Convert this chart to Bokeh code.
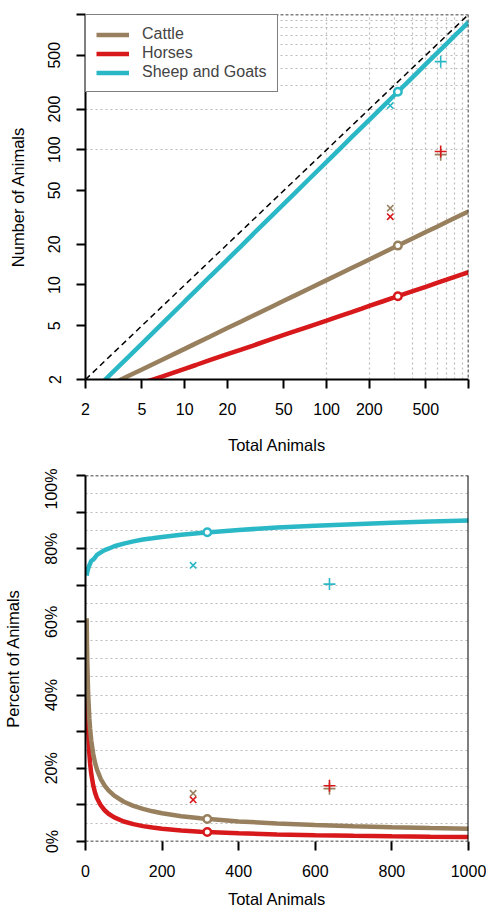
from bokeh.plotting import figure
from bokeh.layouts import column
from bokeh.models import Range1d, FixedTicker, Span, Legend, LegendItem
from bokeh.embed import file_html
from bokeh.resources import INLINE

# ---- data ----
totals = [2, 3, 4, 5, 7, 10, 12, 15, 20, 25, 30, 40, 50, 60, 75, 100, 125, 150, 175, 200, 250, 300,
          400, 500, 600, 700, 800, 900, 1000]
cattle = [1.49, 1.83, 2.12, 2.37, 2.81, 3.37, 3.70, 4.14, 4.80, 5.37, 5.89, 6.82, 7.64, 8.38, 9.39, 10.86,
          12.17, 13.35, 14.43, 15.45, 17.30, 18.98, 21.97, 24.61, 26.99, 29.19, 31.24, 33.17, 34.99]
horses = [1.35, 1.56, 1.73, 1.88, 2.11, 2.40, 2.56, 2.78, 3.08, 3.33, 3.55, 3.94, 4.27, 4.55, 4.93, 5.46,
          5.92, 6.31, 6.67, 7.00, 7.58, 8.09, 8.96, 9.70, 10.36, 10.94, 11.48, 11.97, 12.43]
sheep = [1.43, 2.18, 2.93, 3.69, 5.22, 7.55, 9.11, 11.5, 15.4, 19.4, 23.5, 31.6, 39.8, 48.0, 60.5, 81.4,
         102.5, 123.8, 145.0, 166.4, 209.6, 252.9, 340.4, 429.0, 517.8, 606.9, 696.8, 786.6, 877.0]
pct_min_total = 3  # percent curves start here

fit_total = 318
fit_values = {"Cattle": 19.55, "Horses": 8.26, "Sheep and Goats": 268.7}

obs_x_total = 281
obs_x_values = {"Cattle": 37, "Horses": 32, "Sheep and Goats": 212}
obs_plus_total = 637
obs_plus_values = {"Cattle": 92, "Horses": 97, "Sheep and Goats": 448}

series_names = ["Cattle", "Horses", "Sheep and Goats"]
series_values = {"Cattle": cattle, "Horses": horses, "Sheep and Goats": sheep}
colors = {"Cattle": "#98805E", "Horses": "#D7191C", "Sheep and Goats": "#2BB8C6"}

top_x_ticks = [2, 5, 10, 20, 50, 100, 200, 500, 1000]
top_y_ticks = [2, 5, 10, 20, 50, 100, 200, 500, 1000]
top_grid = [100, 200, 300, 400, 500, 600, 700, 800, 900]
bot_x_ticks = [0, 200, 400, 600, 800, 1000]
bot_y_ticks = [0, 10, 20, 30, 40, 50, 60, 70, 80, 90, 100]
bot_y_labels = {0: "0%", 10: "", 20: "20%", 30: "", 40: "40%", 50: "", 60: "60%", 70: "", 80: "80%", 90: "", 100: "100%"}
bot_grid = [5, 10, 15, 20, 25, 30, 35, 40, 45, 50, 55, 60, 65, 70, 75, 80, 85, 90, 95]

FONT = "Liberation Sans"
GRID = "#BBBBBB"


def style_axes(p):
    for ax in (p.xaxis[0], p.yaxis[0]):
        ax.axis_line_color = "black"
        ax.axis_line_width = 2
        ax.major_tick_line_color = "black"
        ax.major_tick_line_width = 2
        ax.major_tick_in = 0
        ax.major_tick_out = 9
        ax.minor_tick_line_color = None
        ax.major_label_text_font = FONT
        ax.major_label_text_font_size = "16px"
        ax.major_label_text_color = "black"
        ax.axis_label_text_font = FONT
        ax.axis_label_text_font_size = "16.5px"
        ax.axis_label_text_font_style = "normal"
        ax.axis_label_text_color = "black"
    p.xaxis[0].major_label_standoff = 14
    p.yaxis[0].major_label_standoff = 16
    p.yaxis[0].major_label_orientation = "vertical"
    p.yaxis[0].axis_label_standoff = 19
    p.outline_line_color = None
    p.background_fill_color = "white"
    p.border_fill_color = "white"


# ---------------- top panel: log-log counts ----------------
p1 = figure(width=486, height=468, x_axis_type="log", y_axis_type="log",
            x_range=Range1d(2, 1000), y_range=Range1d(2, 1000),
            output_backend="svg", toolbar_location=None,
            min_border_left=84, min_border_right=18, min_border_top=14, min_border_bottom=89,
            x_axis_label="Total Animals", y_axis_label="Number of Animals")
style_axes(p1)
p1.xaxis[0].ticker = FixedTicker(ticks=top_x_ticks)
p1.yaxis[0].ticker = FixedTicker(ticks=top_y_ticks)
p1.xaxis[0].major_label_overrides = {t: ("" if t == 1000 else str(t)) for t in top_x_ticks}
p1.yaxis[0].major_label_overrides = {t: ("" if t == 1000 else str(t)) for t in top_y_ticks}
p1.xaxis[0].axis_label_standoff = 18
for g in (p1.xgrid[0], p1.ygrid[0]):
    g.ticker = FixedTicker(ticks=top_grid)
    g.grid_line_color = GRID
    g.grid_line_dash = "2 3"
    g.grid_line_width = 1.2

p1.add_layout(Span(location=1000, dimension="width", line_color="black", line_dash="3 2", line_width=1.5))
p1.add_layout(Span(location=1000, dimension="height", line_color="black", line_dash="3 2", line_width=1.5))

p1.line([2, 1000], [2, 1000], line_color="black", line_dash="6 4", line_width=1.5)

renderers = {}
for name in ["Horses", "Cattle", "Sheep and Goats"]:
    renderers[name] = p1.line(totals, series_values[name], line_color=colors[name], line_width=4.5)
items = [LegendItem(label=name, renderers=[renderers[name]]) for name in series_names]
for name in series_names:
    p1.scatter([fit_total], [fit_values[name]], marker="circle", size=7.5, line_width=2.5,
               line_color=colors[name], fill_color="white")
    p1.scatter([obs_x_total], [obs_x_values[name]], marker="x", size=9, line_width=1.6,
               line_color=colors[name])
for name in ["Cattle", "Horses", "Sheep and Goats"]:
    p1.scatter([obs_plus_total], [obs_plus_values[name]], marker="cross", size=12, line_width=1.6,
               line_color=colors[name])

legend = Legend(items=items, location="top_left", margin=0, padding=10, spacing=1,
                glyph_width=33, glyph_height=17, label_height=17, label_standoff=13,
                label_text_font=FONT, label_text_font_size="16px",
                border_line_color="black", border_line_width=1.5,
                background_fill_color="white", background_fill_alpha=1.0)
p1.add_layout(legend)

# ---------------- bottom panel: percent ----------------
p2 = figure(width=486, height=445, x_range=Range1d(0, 1000), y_range=Range1d(0, 100),
            output_backend="svg", toolbar_location=None,
            min_border_left=84, min_border_right=18, min_border_top=7, min_border_bottom=72,
            x_axis_label="Total Animals", y_axis_label="Percent of Animals")
style_axes(p2)
p2.xaxis[0].ticker = FixedTicker(ticks=bot_x_ticks)
p2.yaxis[0].ticker = FixedTicker(ticks=bot_y_ticks)
p2.yaxis[0].major_label_overrides = bot_y_labels
p2.xaxis[0].axis_line_color = None
p2.xaxis[0].axis_label_standoff = 10
p2.xgrid[0].grid_line_color = None
p2.ygrid[0].ticker = FixedTicker(ticks=bot_grid)
p2.ygrid[0].grid_line_color = GRID
p2.ygrid[0].grid_line_dash = "2 3"
p2.ygrid[0].grid_line_width = 1.2

p2.add_layout(Span(location=100, dimension="width", line_color="black", line_dash="3 2", line_width=1.5))
p2.add_layout(Span(location=0, dimension="width", line_color="black", line_dash="3 2", line_width=1.5))
p2.add_layout(Span(location=1000, dimension="height", line_color="black", line_width=2))

pct_totals = [t for t in totals if t >= pct_min_total]
for name in ["Horses", "Cattle", "Sheep and Goats"]:
    vals = [v for t, v in zip(totals, series_values[name]) if t >= pct_min_total]
    pct = [100.0 * v / t for v, t in zip(vals, pct_totals)]
    p2.line(pct_totals, pct, line_color=colors[name], line_width=4.5)
for name in series_names:
    p2.scatter([fit_total], [100.0 * fit_values[name] / fit_total], marker="circle", size=7.5, line_width=2.5,
               line_color=colors[name], fill_color="white")
    p2.scatter([obs_x_total], [100.0 * obs_x_values[name] / obs_x_total], marker="x", size=9, line_width=1.6,
               line_color=colors[name])
for name in ["Cattle", "Horses", "Sheep and Goats"]:
    p2.scatter([obs_plus_total], [100.0 * obs_plus_values[name] / obs_plus_total], marker="cross", size=12,
               line_width=1.6, line_color=colors[name])

layout = column(p1, p2, spacing=0)
open("out.html", "w").write(file_html(layout, INLINE))
